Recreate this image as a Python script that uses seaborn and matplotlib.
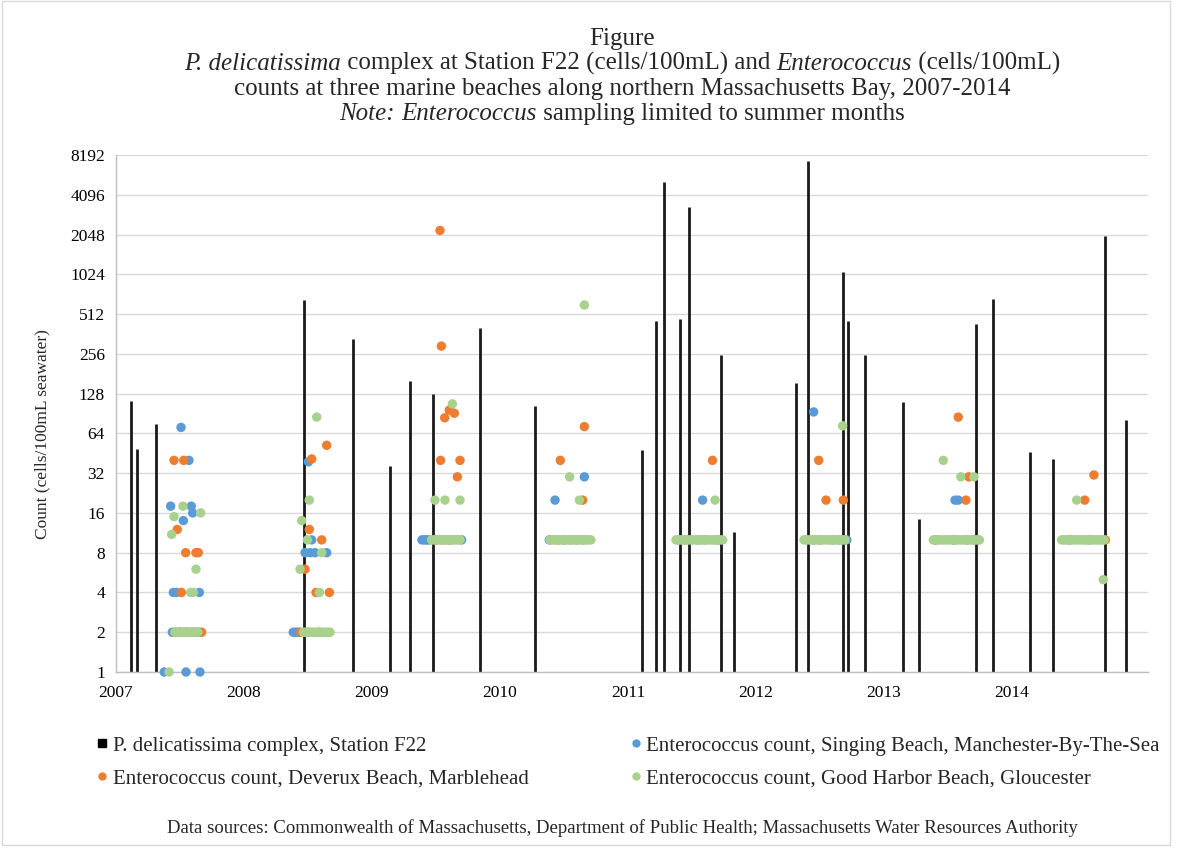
import matplotlib
matplotlib.use('Agg')
import numpy as np
import pandas as pd
import matplotlib.pyplot as plt
import seaborn as sns
from matplotlib.lines import Line2D
from matplotlib.patches import Rectangle
from matplotlib.ticker import NullLocator

sns.set_style('white')
plt.rcParams['font.family'] = ['Liberation Serif', 'DejaVu Serif']

# P. delicatissima complex at Station F22 (decimal year, cells/100mL)
pdel_year = [2007.120, 2007.165, 2007.315, 2008.470, 2008.850, 2009.140, 2009.300,
             2009.480, 2009.840, 2010.270, 2011.110, 2011.220, 2011.285, 2011.410,
             2011.480, 2011.730, 2011.830, 2012.310, 2012.410, 2012.680, 2012.720,
             2012.850, 2013.150, 2013.270, 2013.720, 2013.850, 2014.140, 2014.320,
             2014.730, 2014.890]
pdel_count = [113, 49, 75, 657, 330, 36.5, 160,
              128, 400, 104, 48, 453, 5150, 470,
              3300, 253, 11.4, 153, 7400, 1060, 451,
              250, 111, 14.5, 433, 662, 46, 40.6,
              1993, 80.6]

# Enterococcus counts, (decimal year, cells/100mL)
singing = [
    (2007.508, 71), (2007.570, 40), (2007.427, 18), (2007.588, 18), (2007.599, 16),
    (2007.526, 14), (2007.448, 4), (2007.474, 4), (2007.651, 4),
    (2007.440, 2), (2007.470, 2), (2007.500, 2), (2007.530, 2), (2007.560, 2),
    (2007.590, 2), (2007.620, 2), (2007.650, 2),
    (2007.377, 1), (2007.547, 1), (2007.656, 1),
    (2008.503, 39), (2008.529, 10), (2008.477, 8), (2008.516, 8), (2008.555, 8),
    (2008.646, 8), (2008.385, 2), (2008.400, 2), (2008.415, 2), (2008.430, 2),
    (2009.390, 10), (2009.405, 10), (2009.420, 10), (2009.435, 10), (2009.450, 10),
    (2009.500, 10), (2009.600, 10), (2009.700, 10),
    (2010.659, 30), (2010.430, 20), (2010.385, 10), (2010.500, 10), (2010.600, 10),
    (2011.583, 20), (2011.400, 10), (2011.550, 10), (2011.700, 10),
    (2012.450, 93), (2012.450, 10), (2012.600, 10), (2012.710, 10),
    (2013.555, 20), (2013.580, 20), (2013.400, 10), (2013.550, 10), (2013.700, 10),
    (2014.450, 10), (2014.600, 10),
]
deverux = [
    (2007.453, 40), (2007.529, 40), (2007.479, 12), (2007.544, 8), (2007.625, 8),
    (2007.643, 8), (2007.510, 4), (2007.460, 2), (2007.500, 2), (2007.550, 2),
    (2007.600, 2), (2007.630, 2), (2007.669, 2),
    (2008.646, 52), (2008.529, 41), (2008.510, 12), (2008.607, 10), (2008.477, 6),
    (2008.5625, 4), (2008.667, 4), (2008.443, 2), (2008.500, 2), (2008.589, 2),
    (2009.531, 2200), (2009.542, 293), (2009.604, 96), (2009.643, 91), (2009.568, 84),
    (2009.536, 40), (2009.6875, 40), (2009.667, 30), (2009.500, 10), (2009.550, 10),
    (2009.620, 10),
    (2010.659, 72), (2010.471, 40), (2010.646, 20), (2010.450, 10), (2010.550, 10),
    (2010.650, 10),
    (2011.660, 40), (2011.450, 10), (2011.600, 10),
    (2012.490, 40), (2012.547, 20), (2012.682, 20), (2012.500, 10), (2012.650, 10),
    (2013.580, 85), (2013.662, 30), (2013.640, 20), (2013.410, 10), (2013.540, 10),
    (2013.650, 10),
    (2014.640, 31), (2014.568, 20), (2014.730, 10),
]
good_harbor = [
    (2007.523, 18), (2007.661, 16), (2007.453, 15), (2007.435, 11), (2007.625, 6),
    (2007.583, 4), (2007.604, 4), (2007.461, 2), (2007.475, 2), (2007.490, 2),
    (2007.505, 2), (2007.520, 2), (2007.535, 2), (2007.550, 2), (2007.565, 2),
    (2007.580, 2), (2007.595, 2), (2007.610, 2), (2007.640, 2), (2007.414, 1),
    (2008.568, 85), (2008.510, 20), (2008.451, 14), (2008.495, 10), (2008.607, 8),
    (2008.4375, 6), (2008.589, 4), (2008.465, 2), (2008.480, 2), (2008.495, 2),
    (2008.510, 2), (2008.525, 2), (2008.540, 2), (2008.555, 2), (2008.570, 2),
    (2008.585, 2), (2008.600, 2), (2008.615, 2), (2008.630, 2), (2008.645, 2),
    (2008.660, 2), (2008.672, 2),
    (2009.628, 107), (2009.492, 20), (2009.570, 20), (2009.6875, 20),
    (2009.466, 10), (2009.482, 10), (2009.498, 10), (2009.514, 10), (2009.530, 10),
    (2009.546, 10), (2009.562, 10), (2009.578, 10), (2009.594, 10), (2009.610, 10),
    (2009.626, 10), (2009.642, 10), (2009.658, 10), (2009.674, 10), (2009.688, 10),
    (2010.659, 600), (2010.544, 30), (2010.620, 20),
    (2010.390, 10), (2010.406, 10), (2010.422, 10), (2010.438, 10), (2010.454, 10),
    (2010.470, 10), (2010.486, 10), (2010.502, 10), (2010.518, 10), (2010.534, 10),
    (2010.550, 10), (2010.566, 10), (2010.582, 10), (2010.598, 10), (2010.614, 10),
    (2010.630, 10), (2010.646, 10), (2010.662, 10), (2010.678, 10), (2010.694, 10),
    (2010.710, 10),
    (2011.680, 20),
    (2011.375, 10), (2011.392, 10), (2011.408, 10), (2011.425, 10), (2011.441, 10),
    (2011.458, 10), (2011.474, 10), (2011.491, 10), (2011.507, 10), (2011.524, 10),
    (2011.540, 10), (2011.557, 10), (2011.573, 10), (2011.590, 10), (2011.606, 10),
    (2011.623, 10), (2011.639, 10), (2011.656, 10), (2011.672, 10), (2011.689, 10),
    (2011.705, 10), (2011.722, 10), (2011.740, 10),
    (2012.677, 73),
    (2012.375, 10), (2012.391, 10), (2012.407, 10), (2012.423, 10), (2012.439, 10),
    (2012.455, 10), (2012.471, 10), (2012.487, 10), (2012.503, 10), (2012.519, 10),
    (2012.535, 10), (2012.551, 10), (2012.567, 10), (2012.583, 10), (2012.599, 10),
    (2012.615, 10), (2012.631, 10), (2012.647, 10), (2012.663, 10), (2012.679, 10),
    (2012.695, 10),
    (2013.463, 40), (2013.600, 30), (2013.703, 30),
    (2013.385, 10), (2013.401, 10), (2013.417, 10), (2013.433, 10), (2013.449, 10),
    (2013.465, 10), (2013.481, 10), (2013.497, 10), (2013.513, 10), (2013.529, 10),
    (2013.545, 10), (2013.561, 10), (2013.577, 10), (2013.593, 10), (2013.609, 10),
    (2013.625, 10), (2013.641, 10), (2013.657, 10), (2013.673, 10), (2013.689, 10),
    (2013.705, 10), (2013.721, 10), (2013.737, 10), (2013.745, 10),
    (2014.505, 20), (2014.713, 5),
    (2014.388, 10), (2014.404, 10), (2014.420, 10), (2014.436, 10), (2014.452, 10),
    (2014.468, 10), (2014.484, 10), (2014.500, 10), (2014.516, 10), (2014.532, 10),
    (2014.548, 10), (2014.564, 10), (2014.580, 10), (2014.596, 10), (2014.612, 10),
    (2014.628, 10), (2014.644, 10), (2014.660, 10), (2014.676, 10), (2014.692, 10),
    (2014.708, 10), (2014.720, 10),
]

site_names = ['Enterococcus count, Singing Beach, Manchester-By-The-Sea',
              'Enterococcus count, Deverux Beach, Marblehead',
              'Enterococcus count, Good Harbor Beach, Gloucester']
site_colors = ['#5B9BD5', '#ED7D31', '#A9D18E']
pdel_name = 'P. delicatissima complex, Station F22'

year_ticks = [2007, 2008, 2009, 2010, 2011, 2012, 2013, 2014]
count_ticks = [1, 2, 4, 8, 16, 32, 64, 128, 256, 512, 1024, 2048, 4096, 8192]

# title lines as (text, style) runs
title_lines = [
    [('Figure', 'normal')],
    [('P. delicatissima', 'italic'), (' complex at Station F22 (cells/100mL) and ', 'normal'),
     ('Enterococcus', 'italic'), (' (cells/100mL)', 'normal')],
    [('counts at three marine beaches along northern Massachusetts Bay, 2007-2014', 'normal')],
    [('Note:', 'italic'), (' ', 'normal'), ('Enterococcus', 'italic'),
     (' sampling limited to summer months', 'normal')],
]
title_baselines = [45, 70, 95, 120]

frames = []
for name, pts in zip(site_names, [singing, deverux, good_harbor]):
    d = pd.DataFrame(pts, columns=['year', 'count'])
    d['site'] = name
    frames.append(d)
df = pd.concat(frames, ignore_index=True)

W, H = 1182, 855
fig = plt.figure(figsize=(W / 100, H / 100), dpi=100)
ax = fig.add_axes([116 / W, 1 - 672 / H, 1032 / W, 517 / H])
ax.set_yscale('log', base=2)

ax.vlines(pdel_year, 1, pdel_count, color='#1a1a1a', lw=2.0, zorder=2)
sns.scatterplot(data=df, x='year', y='count', hue='site', hue_order=site_names,
                palette=site_colors, s=46, edgecolor='none', linewidth=0,
                legend=False, ax=ax, zorder=3, clip_on=False)

ax.set_xlim(2007, 2007 + 1032 / 128)
ax.set_ylim(1, 8192)
ax.set_xticks(year_ticks)
ax.set_xticklabels([str(y) for y in year_ticks])
ax.set_yticks(count_ticks)
ax.set_yticklabels([str(c) for c in count_ticks])
ax.yaxis.set_minor_locator(NullLocator())
ax.tick_params(length=0, labelsize=12.5, colors='black')
ax.tick_params(axis='x', pad=9)
ax.tick_params(axis='y', pad=8)
ax.grid(axis='y', color='#D9D9D9', lw=1)
ax.grid(axis='x', visible=False)
ax.set_axisbelow(True)
for s in ['top', 'right']:
    ax.spines[s].set_visible(False)
for s in ['left', 'bottom']:
    ax.spines[s].set_color('#BFBFBF')
    ax.spines[s].set_linewidth(1)
ax.set_xlabel('')
ax.set_ylabel('Count (cells/100mL seawater)', fontsize=12.5)
ax.yaxis.set_label_coords(-0.064, 0.46)

# title: runs laid out side by side so the italic parts sit inline
renderer = fig.canvas.get_renderer()
cx = 622
tfs = 18
for runs, base in zip(title_lines, title_baselines):
    arts = [fig.text(0, 1 - base / H, txt, style=st, fontsize=tfs, va='baseline')
            for txt, st in runs]
    ws = [a.get_window_extent(renderer).width for a in arts]
    x = cx - sum(ws) / 2
    for a, w in zip(arts, ws):
        a.set_x(x / W)
        x += w

handles = [Line2D([], [], marker='s', ls='', color='black', markersize=6),
           Line2D([], [], marker='o', ls='', color=site_colors[1], markersize=6, mec='none'),
           Line2D([], [], marker='o', ls='', color=site_colors[0], markersize=6, mec='none'),
           Line2D([], [], marker='o', ls='', color=site_colors[2], markersize=6, mec='none')]
labels = [pdel_name, site_names[1], site_names[0], site_names[2]]
top = 1 - 736 / H
fig.legend(handles, labels, loc='upper left', bbox_to_anchor=(97 / W, top - 0.1, 1063 / W, 0.1),
           mode='expand', ncol=2, frameon=False, fontsize=15, handlelength=0.5,
           handletextpad=0.25, labelspacing=0.62, borderaxespad=0, borderpad=0)

fig.text(cx / W, 1 - 828 / H,
         'Data sources: Commonwealth of Massachusetts, Department of Public Health; '
         'Massachusetts Water Resources Authority', ha='center', va='center', fontsize=13.5)

fig.patches.append(Rectangle((2 / W, 1 - 845 / H), 1168 / W, 845 / H - 0.001,
                             transform=fig.transFigure, fill=False, ec='#D9D9D9', lw=1))

fig.savefig('out.png', dpi=100)
